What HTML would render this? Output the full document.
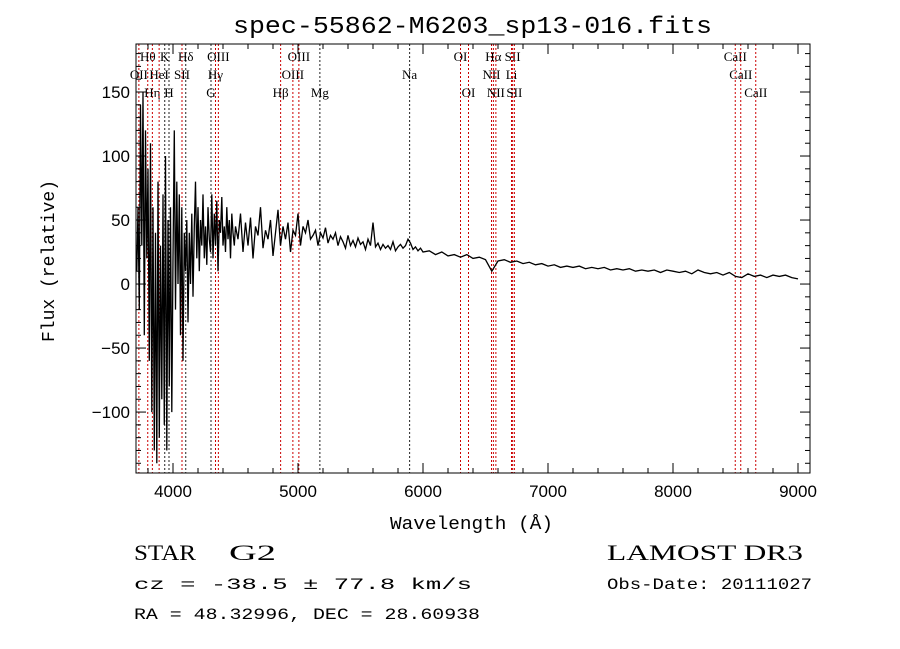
<!DOCTYPE html>
<html><head><meta charset="utf-8"><style>
body{margin:0;background:#fff;}
svg{display:block;font-family:"Liberation Serif",serif;}
.mono{font-family:"Liberation Mono",monospace;}
</style></head><body>
<svg id="chart" width="900" height="649" viewBox="0 0 900 649" xmlns="http://www.w3.org/2000/svg">
<rect width="900" height="649" fill="#fff"/>
<text class="mono" x="233" y="33" textLength="479" lengthAdjust="spacingAndGlyphs" font-size="24">spec-55862-M6203_sp13-016.fits</text>
<g id="lines"></g>
<g id="spec"></g>
<g id="axes"></g>
<text class="mono" x="390" y="529" textLength="163" lengthAdjust="spacingAndGlyphs" font-size="18">Wavelength (Å)</text>
<text class="mono" transform="translate(54,342) rotate(-90)" textLength="162" lengthAdjust="spacingAndGlyphs" font-size="18">Flux (relative)</text>
<text x="134" y="560" font-size="22" textLength="62" lengthAdjust="spacingAndGlyphs">STAR</text>
<text x="229" y="560" font-size="22" textLength="47" lengthAdjust="spacingAndGlyphs">G2</text>
<text x="607" y="560" font-size="22" textLength="196" lengthAdjust="spacingAndGlyphs">LAMOST DR3</text>
<text class="mono" x="134" y="589" font-size="16" textLength="338" lengthAdjust="spacingAndGlyphs">cz = -38.5 ± 77.8 km/s</text>
<text class="mono" x="607" y="589" font-size="16" textLength="205" lengthAdjust="spacingAndGlyphs">Obs-Date: 20111027</text>
<text class="mono" x="134" y="619" font-size="16" textLength="346" lengthAdjust="spacingAndGlyphs">RA =  48.32996, DEC =  28.60938</text>
</svg>
<script>
const fluxA = [10,60,-20,140,30,150,-40,120,20,90,
-60,110,-100,60,-130,40,-140,80,-120,30,
-90,70,-110,100,-130,50,-80,60,-100,20,
120,-20,80,0,70,-40,60,-60,40,10,
50,-30,40,0,55,-10,45,80,20,60,
10,50,30,70,20,45,15,60,35,25,
70,20,55,30,65,10,50,40,68,30,
45,25,60,35,50,20,55,40,30,45];
const fluxB = [35,55,25,48,30,52,20,45,38,60,28,42,35,50,22,40,58,30,45,35,
48,25,42,38,55,30,45,40,50,35,38,42,30,40,36,44,32,38,35,40,
30,37,33,28,38,30,34,29,36,31,33,27,35,30,48,29,32,27,31,28,
30,27,33,26,29,31,28,30,35,32,27,29,26,28,25];
const fluxC = [26,23,25,22,23,21,23,20,21,19,10,18,19,17,18,16,17,15,16,14,
15,13,14,13,14,12,13,12,13,11,12,11,12,10,11,10,11,9,11,10,
9,10,8,11,9,8,9,7,9,6,5,8,6,7,5,7,6,7,5,4];
const lineNames = ["OII","Hθ","Hη","HeI","K","H","SII","Hδ","G","Hγ","OIII","Hβ","OIII","OIII","Mg","Na","OI","OI","NII","Hα","NII","Li","SII","SII","CaII","CaII","CaII"];
const lineWaves = [3727,3798,3835,3889,3934,3968,4072,4102,4304,4340,4363,4861,4959,5007,5175,5893,6300,6364,6548,6563,6583,6708,6717,6731,8498,8542,8662];
const lineRows = [1,0,2,1,0,2,1,0,2,1,0,2,1,0,2,1,0,2,1,0,2,1,0,2,0,1,2];
const lineDark = [0,0,0,0,1,1,0,1,1,0,0,0,0,0,1,1,0,0,0,0,0,0,0,0,0,0,0];
const xTicks = [4000,5000,6000,7000,8000,9000];
const yTicks = [-100,-50,0,50,100,150];

const X0=136,X1=810,Y0=44,Y1=473;
const W0=3704,W1=9096,F0=-147.6,F1=187.5;
const xs=w=>X0+(w-W0)/(W1-W0)*(X1-X0);
const ys=f=>Y1-(f-F0)/(F1-F0)*(Y1-Y0);
const NS="http://www.w3.org/2000/svg";
function mk(t,p,a){const e=document.createElementNS(NS,t);for(const k in a)e.setAttribute(k,a[k]);p.appendChild(e);return e;}

const waves=[],flux=[];
fluxA.forEach((f,i)=>{waves.push(3710+10*i);flux.push(f);});
fluxB.forEach((f,i)=>{waves.push(4520+20*i);flux.push(f);});
fluxC.forEach((f,i)=>{waves.push(6050+50*i);flux.push(f);});

const gl=document.getElementById('lines');
const rowY=[61,79,97];
lineWaves.forEach((w,i)=>{
  const x=xs(w);
  const ln=mk('line',gl,{x1:x,x2:x,y1:Y0,y2:Y1,stroke:lineDark[i]?'#222':'#c00','stroke-width':1,'stroke-dasharray':'2,2'});
  
  
  const t=mk('text',gl,{x:x,y:rowY[lineRows[i]],'text-anchor':'middle','font-size':13});
  t.textContent=lineNames[i];
  
  
});

const gs=document.getElementById('spec');
const path=mk('polyline',gs,{fill:'none',stroke:'#000','stroke-width':1.3,points:waves.map((w,i)=>xs(w).toFixed(1)+','+ys(flux[i]).toFixed(1)).join(' ')});



const ga=document.getElementById('axes');
const fr=mk('rect',ga,{x:X0,y:Y0,width:X1-X0,height:Y1-Y0,fill:'none',stroke:'#000','stroke-width':1});


for(let w=3800;w<=W1;w+=200){
  const x=xs(w),maj=w%1000===0,L=maj?10:5;
  mk('line',ga,{x1:x,x2:x,y1:Y1,y2:Y1-L,stroke:'#000'});
  mk('line',ga,{x1:x,x2:x,y1:Y0,y2:Y0+L,stroke:'#000'});
}
xTicks.forEach(w=>{
  const t=mk('text',ga,{x:xs(w),y:Y1+24,'text-anchor':'middle','font-size':17,'font-family':'Liberation Sans, sans-serif'});
  t.textContent=w;
  
  
});
for(let f=-140;f<=F1;f+=10){
  const y=ys(f),maj=f%50===0,L=maj?10:5;
  mk('line',ga,{x1:X0,x2:X0+L,y1:y,y2:y,stroke:'#000'});
  mk('line',ga,{x1:X1,x2:X1-L,y1:y,y2:y,stroke:'#000'});
}
yTicks.forEach(f=>{
  const t=mk('text',ga,{x:X0-6,y:ys(f)+6,'text-anchor':'end','font-size':17,'font-family':'Liberation Sans, sans-serif'});
  t.textContent=f<0?'\u2212'+(-f):f;
  
  
});
</script>
</body></html>
